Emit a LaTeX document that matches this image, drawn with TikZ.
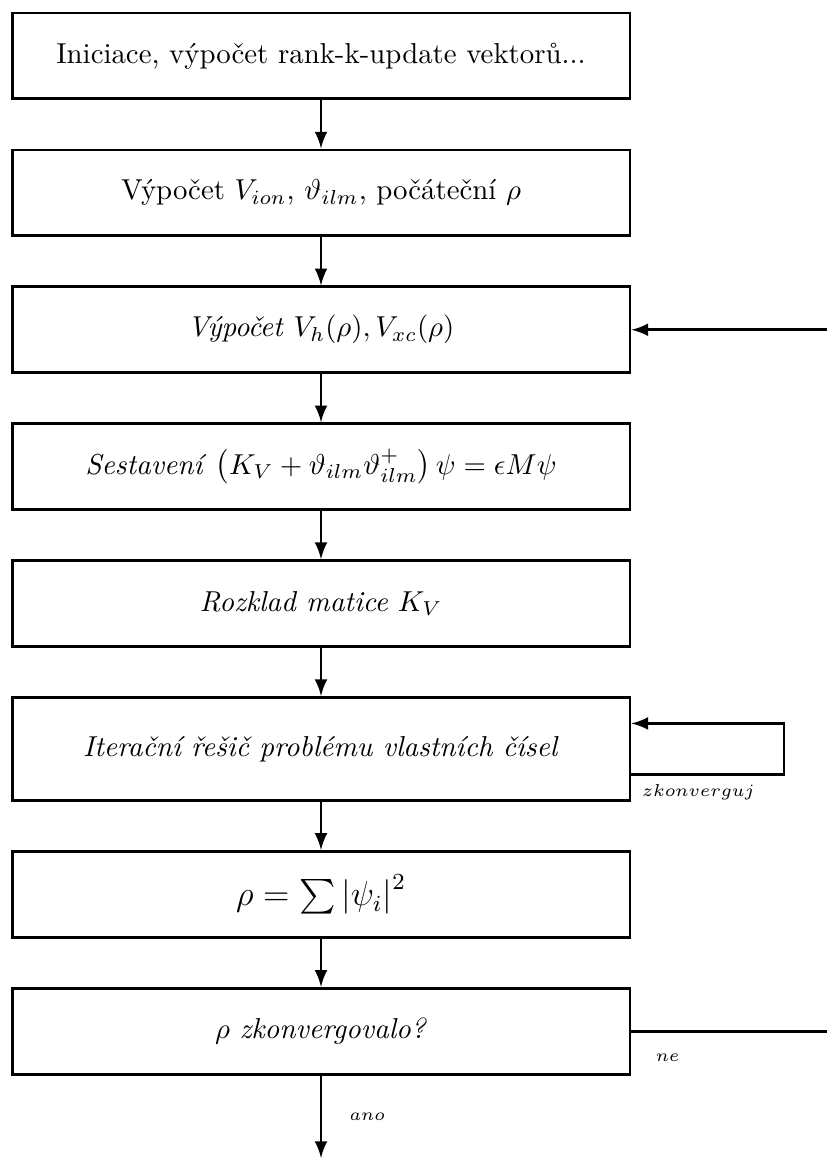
\documentclass[tikz,border=0pt]{standalone}
\usepackage{amsmath}
\usepackage{amssymb}
\usepackage{tikz}
\usetikzlibrary{positioning}
\usetikzlibrary{shapes,arrows}

\tikzset{
	krok/.style={draw, line width=1pt, rectangle, minimum width=214.4pt, minimum height=29.8pt, align=center},
	spoj/.style={line width=1pt, ->, >=latex},
	popis/.style={font=\fontsize{6.3}{7}\selectfont, inner sep=0pt}
}

\begin{document}
\begin{tikzpicture}[x=0.347pt,y=0.347pt,>=latex]
				\useasboundingbox (0,0) rectangle (827,-1161);
				\coordinate (Okraj) at (827,0);% right border
				\coordinate (Smycka) at (784,0);% right side of the loop
				\coordinate (Konec) at (321,-1158);
				
				\node[krok] (init) at (321,-56) {Iniciace, výpočet rank-k-update vektorů...};
				\node[krok, below=16.7pt of init] (vion) {Výpočet $V_{ion}$, $\vartheta_{ilm}$, počáteční $\rho$};
				\node[krok, below=16.7pt of vion] (vxc) {\textit{Výpočet} $V_h(\rho), V_{xc}(\rho)$};
				\node[krok, below=16.7pt of vxc] (sest) {\textit{Sestavení} $\left(K_V+\vartheta_{ilm}\vartheta_{ilm}^{+}\right)\psi=\epsilon M\psi$};
				\node[krok, below=16.7pt of sest] (rozk) {\textit{Rozklad matice} $K_V$};
				\node[krok, below=16.7pt of rozk, minimum height=35.7pt] (iter) {\textit{Iterační řešič problému vlastních čísel}};
				\node[krok, below=16.7pt of iter] (rho) {\large $\rho=\sum\left|\psi_i\right|^2$};
				\node[krok, below=16.7pt of rho] (konv) {$\rho$ \textit{zkonvergovalo?}};
				
				\draw[spoj] (init) -- (vion);
				\draw[spoj] (vion) -- (vxc);
				\draw[spoj] (vxc) -- (sest);
				\draw[spoj] (sest) -- (rozk);
				\draw[spoj] (rozk) -- (iter);
				\draw[spoj] (iter) -- (rho);
				\draw[spoj] (rho) -- (konv);
				\draw[spoj] (konv) -- (Konec) node[popis, pos=0.5, right=9.4pt] {$ano$};
				
				% loop of the iterative solver
				\draw[spoj] ([yshift=-8.85pt]iter.east) -- ([yshift=-8.85pt]iter.east -| Smycka) -- ([yshift=8.85pt]iter.east -| Smycka) -- ([yshift=8.85pt]iter.east);
				\node[popis, anchor=north west] (zk) at ([xshift=3.5pt,yshift=-12.3pt]iter.east) {$zkonverguj$};
				
				% back to V_h, V_xc
				\draw[line width=1pt] (konv.east) -- (konv.east -| Okraj);
				\node[popis, anchor=north west] (ne) at ([xshift=8.3pt,yshift=-7.6pt]konv.east) {$ne$};
				\draw[spoj] (vxc.east -| Okraj) -- (vxc.east);
				
\end{tikzpicture}
\end{document}
